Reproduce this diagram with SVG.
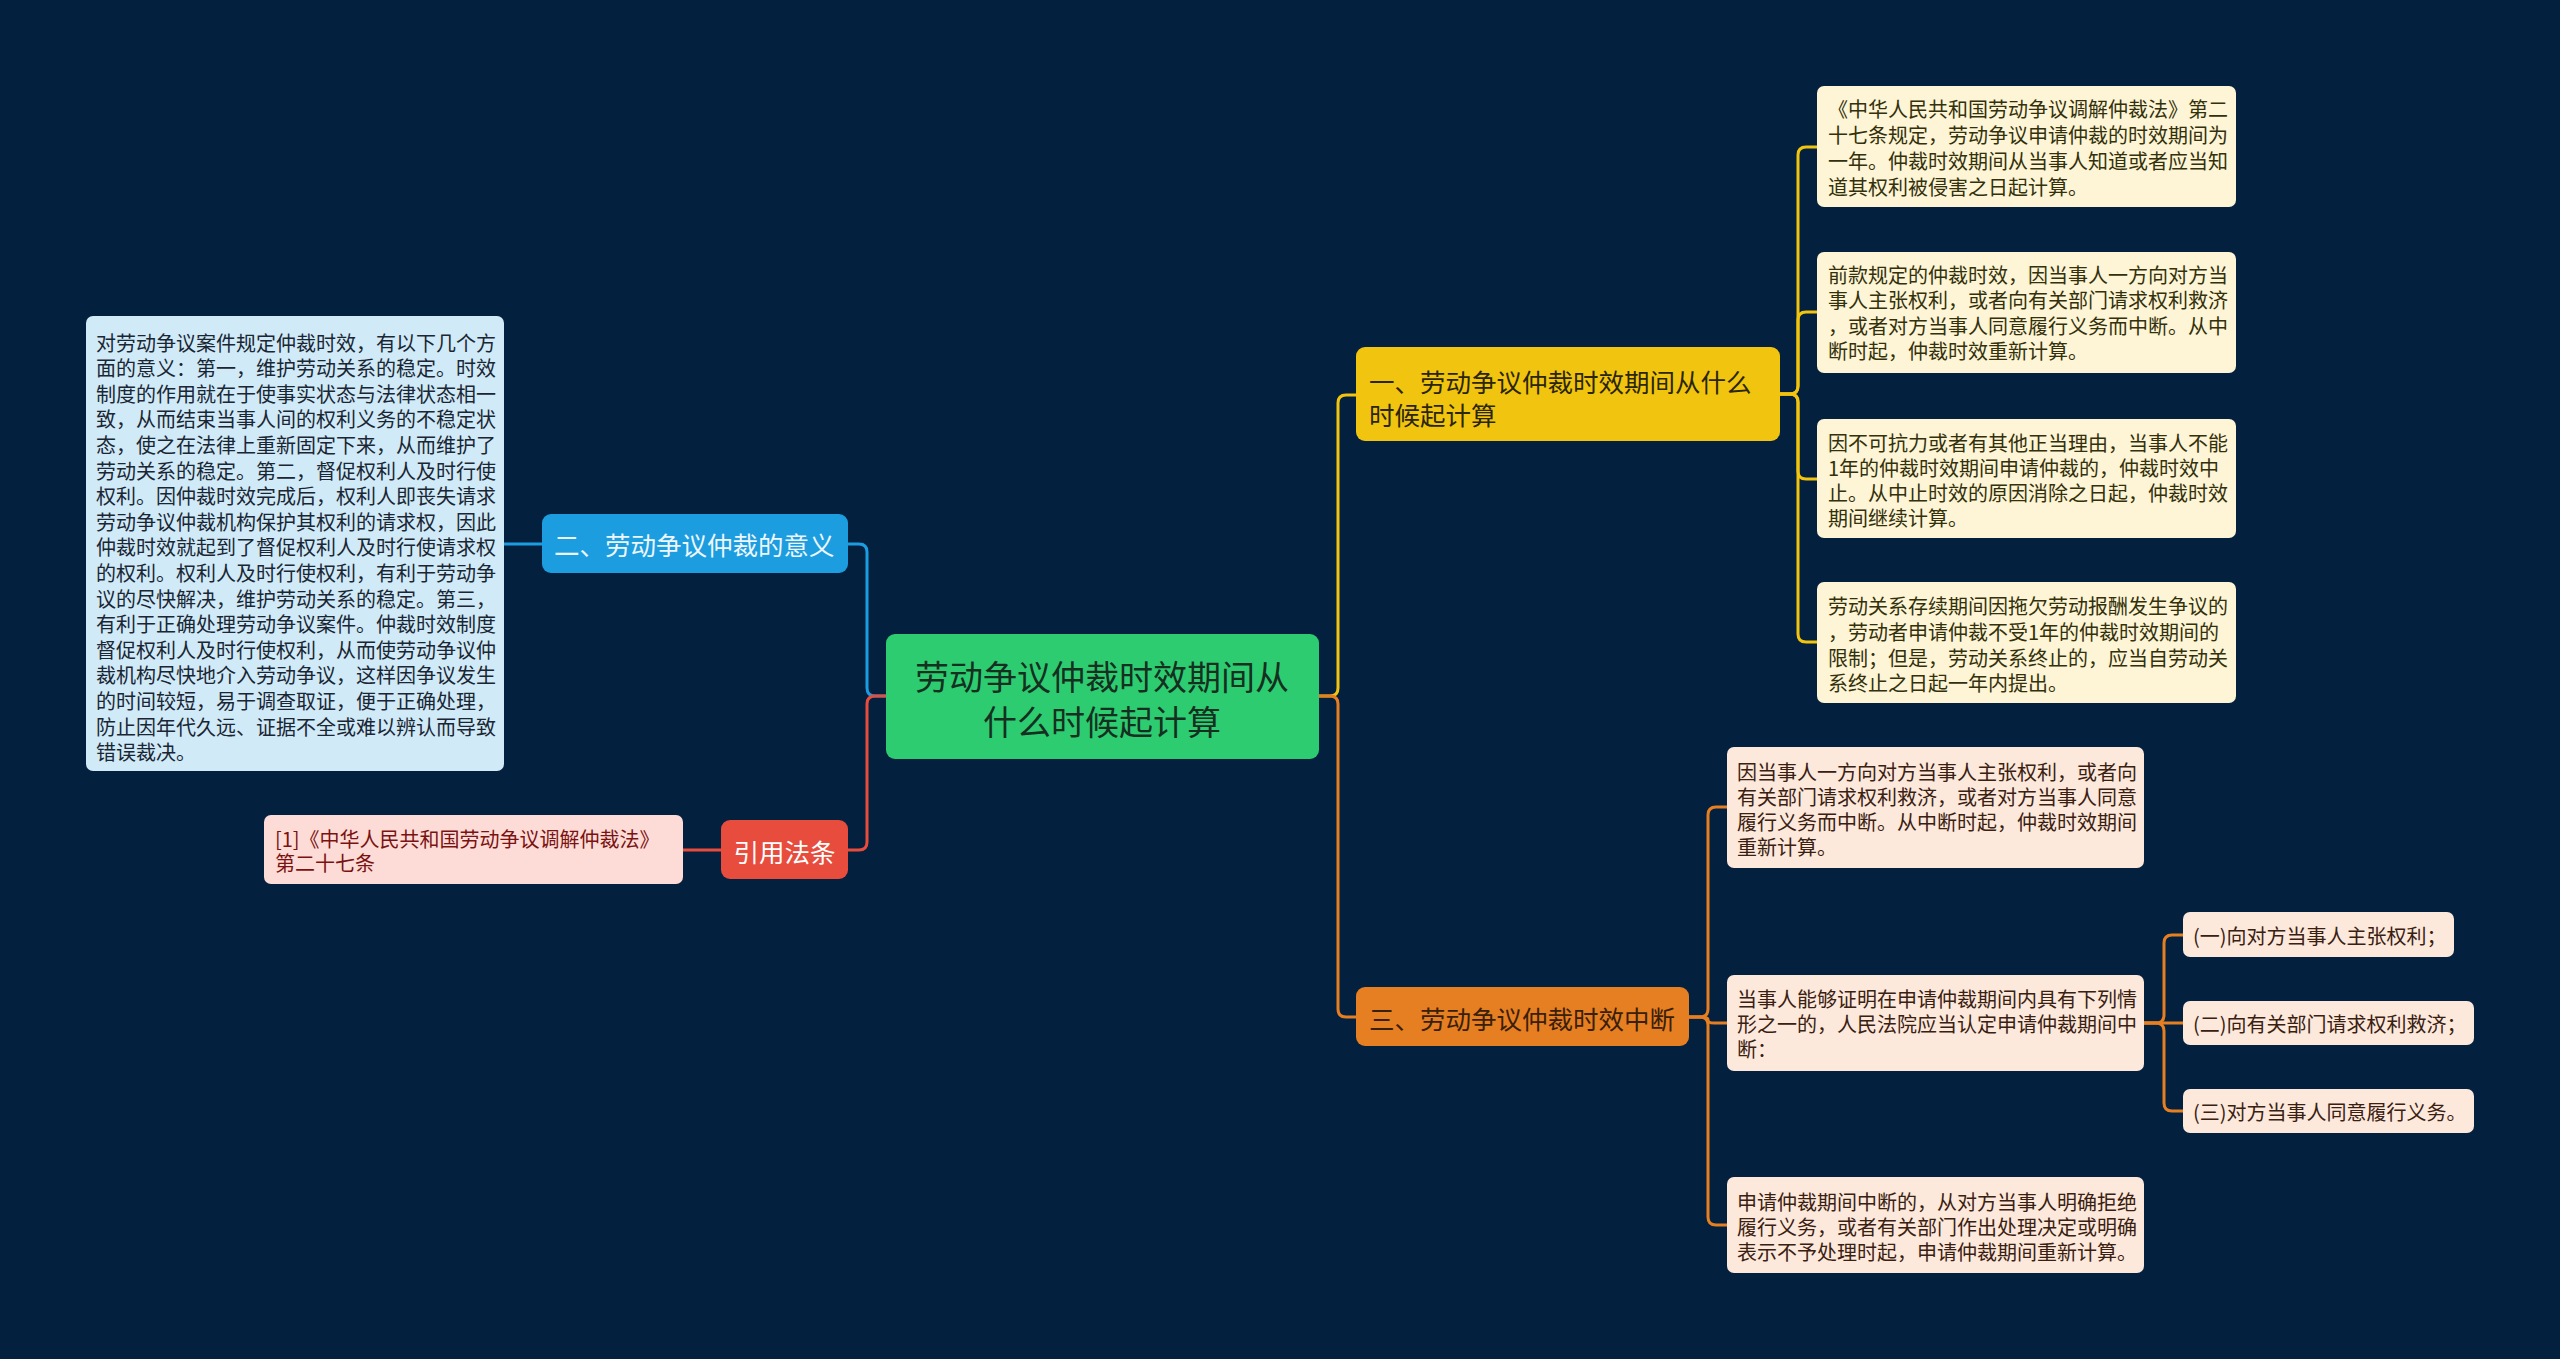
<svg xmlns="http://www.w3.org/2000/svg" width="2560" height="1359" viewBox="0 0 2560 1359">
<style>
text{font-family:"Noto Sans CJK SC","Noto Sans",sans-serif;dominant-baseline:central}
.leaf{font-size:20px}
.br{font-size:25.5px}
.c path{fill:none;stroke-width:3}
.y{stroke:#f1c40f}.o{stroke:#e67e22}.b{stroke:#1b9de0}.r{stroke:#e74c3c}
</style>
<rect width="2560" height="1359" fill="#03203f"/>
<g class="c" id="connectors">
<path class="y" d="M1319,696 H1330 Q1338,696 1338,688 V403 Q1338,395 1346,395 H1356"/>
<path class="o" d="M1319,696 H1330 Q1338,696 1338,704 V1009 Q1338,1017 1346,1017 H1356"/>
<path class="b" d="M886,696 H875 Q867,696 867,688 V552 Q867,544 859,544 H848"/>
<path class="r" d="M886,696 H875 Q867,696 867,704 V842 Q867,850 859,850 H848"/>
<path class="b" d="M542,544 H504"/>
<path class="r" d="M721,850 H683"/>
<path class="y" d="M1780,394 H1790 Q1798,394 1798,386 V155 Q1798,147 1806,147 H1817"/>
<path class="y" d="M1780,394 H1790 Q1798,394 1798,386 V320 Q1798,312 1806,312 H1817"/>
<path class="y" d="M1780,394 H1790 Q1798,394 1798,402 V471 Q1798,479 1806,479 H1817"/>
<path class="y" d="M1780,394 H1790 Q1798,394 1798,402 V634 Q1798,642 1806,642 H1817"/>
<path class="o" d="M1689,1017 H1700 Q1708,1017 1708,1009 V815 Q1708,807 1716,807 H1727"/>
<path class="o" d="M1689,1017 H1702 Q1708,1017 1708,1020 Q1708,1023 1714,1023 H1727"/>
<path class="o" d="M1689,1017 H1700 Q1708,1017 1708,1025 V1217 Q1708,1225 1716,1225 H1727"/>
<path class="o" d="M2144,1023 H2156 Q2164,1023 2164,1015 V943 Q2164,935 2172,935 H2183"/>
<path class="o" d="M2144,1023 H2183"/>
<path class="o" d="M2144,1023 H2156 Q2164,1023 2164,1031 V1103 Q2164,1111 2172,1111 H2183"/>
</g>
<g id="root">
<rect x="886" y="634" width="433" height="125" rx="9" fill="#2ecc71"/>
<text x="1102" y="675" font-size="34" text-anchor="middle" fill="#15301f">劳动争议仲裁时效期间从</text>
<text x="1102" y="720" font-size="34" text-anchor="middle" fill="#15301f">什么时候起计算</text>
</g>
<g id="b1">
<rect x="1356" y="347" width="424" height="94" rx="9" fill="#f1c40f"/>
<text class="br" x="1369" y="380" fill="#2b2608">一、劳动争议仲裁时效期间从什么</text>
<text class="br" x="1369" y="413" fill="#2b2608">时候起计算</text>
</g>
<g id="b3">
<rect x="1356" y="987" width="333" height="59" rx="9" fill="#e67e22"/>
<text class="br" x="1369" y="1017" fill="#3a200a">三、劳动争议仲裁时效中断</text>
</g>
<g id="b2">
<rect x="542" y="514" width="306" height="59" rx="9" fill="#1b9de0"/>
<text class="br" x="554" y="543" fill="#eef6fc">二、劳动争议仲裁的意义</text>
</g>
<g id="ref">
<rect x="721" y="820" width="127" height="59" rx="9" fill="#e74c3c"/>
<text class="br" x="784.5" y="850" text-anchor="middle" fill="#ffffff">引用法条</text>
</g>
<g id="refleaf">
<rect x="264" y="815" width="419" height="69" rx="7" fill="#fddcd7"/>
<g class="leaf" fill="#7a1212">
<text x="275" y="838">[1]《中华人民共和国劳动争议调解仲裁法》</text>
<text x="275" y="862">第二十七条</text>
</g>
</g>
<g id="leftleaf">
<rect x="86" y="316" width="418" height="455" rx="7" fill="#d0eaf8"/>
<g class="leaf" fill="#1a2633">
<text x="96" y="342">对劳动争议案件规定仲裁时效，有以下几个方</text>
<text x="96" y="367.6">面的意义：第一，维护劳动关系的稳定。时效</text>
<text x="96" y="393.2">制度的作用就在于使事实状态与法律状态相一</text>
<text x="96" y="418.8">致，从而结束当事人间的权利义务的不稳定状</text>
<text x="96" y="444.4">态，使之在法律上重新固定下来，从而维护了</text>
<text x="96" y="470">劳动关系的稳定。第二，督促权利人及时行使</text>
<text x="96" y="495.6">权利。因仲裁时效完成后，权利人即丧失请求</text>
<text x="96" y="521.2">劳动争议仲裁机构保护其权利的请求权，因此</text>
<text x="96" y="546.8">仲裁时效就起到了督促权利人及时行使请求权</text>
<text x="96" y="572.4">的权利。权利人及时行使权利，有利于劳动争</text>
<text x="96" y="598">议的尽快解决，维护劳动关系的稳定。第三，</text>
<text x="96" y="623.6">有利于正确处理劳动争议案件。仲裁时效制度</text>
<text x="96" y="649.2">督促权利人及时行使权利，从而使劳动争议仲</text>
<text x="96" y="674.8">裁机构尽快地介入劳动争议，这样因争议发生</text>
<text x="96" y="700.4">的时间较短，易于调查取证，便于正确处理，</text>
<text x="96" y="726">防止因年代久远、证据不全或难以辨认而导致</text>
<text x="96" y="751.6">错误裁决。</text>
</g>
</g>
<g id="y1">
<rect x="1817" y="86" width="419" height="121" rx="7" fill="#fdf5d5"/>
<g class="leaf" fill="#33300c">
<text x="1828" y="108">《中华人民共和国劳动争议调解仲裁法》第二</text>
<text x="1828" y="134">十七条规定，劳动争议申请仲裁的时效期间为</text>
<text x="1828" y="160">一年。仲裁时效期间从当事人知道或者应当知</text>
<text x="1828" y="186">道其权利被侵害之日起计算。</text>
</g>
</g>
<g id="y2">
<rect x="1817" y="252" width="419" height="121" rx="7" fill="#fdf5d5"/>
<g class="leaf" fill="#33300c">
<text x="1828" y="274">前款规定的仲裁时效，因当事人一方向对方当</text>
<text x="1828" y="299">事人主张权利，或者向有关部门请求权利救济</text>
<text x="1828" y="325">，或者对方当事人同意履行义务而中断。从中</text>
<text x="1828" y="350">断时起，仲裁时效重新计算。</text>
</g>
</g>
<g id="y3">
<rect x="1817" y="419" width="419" height="119" rx="7" fill="#fdf5d5"/>
<g class="leaf" fill="#33300c">
<text x="1828" y="442">因不可抗力或者有其他正当理由，当事人不能</text>
<text x="1828" y="467">1年的仲裁时效期间申请仲裁的，仲裁时效中</text>
<text x="1828" y="492">止。从中止时效的原因消除之日起，仲裁时效</text>
<text x="1828" y="517">期间继续计算。</text>
</g>
</g>
<g id="y4">
<rect x="1817" y="582" width="419" height="121" rx="7" fill="#fdf5d5"/>
<g class="leaf" fill="#33300c">
<text x="1828" y="605">劳动关系存续期间因拖欠劳动报酬发生争议的</text>
<text x="1828" y="631">，劳动者申请仲裁不受1年的仲裁时效期间的</text>
<text x="1828" y="657">限制；但是，劳动关系终止的，应当自劳动关</text>
<text x="1828" y="682">系终止之日起一年内提出。</text>
</g>
</g>
<g id="o1">
<rect x="1727" y="747" width="417" height="121" rx="7" fill="#fce9dc"/>
<g class="leaf" fill="#3a2010">
<text x="1737" y="771">因当事人一方向对方当事人主张权利，或者向</text>
<text x="1737" y="796">有关部门请求权利救济，或者对方当事人同意</text>
<text x="1737" y="821">履行义务而中断。从中断时起，仲裁时效期间</text>
<text x="1737" y="846">重新计算。</text>
</g>
</g>
<g id="o2">
<rect x="1727" y="975" width="417" height="96" rx="7" fill="#fce9dc"/>
<g class="leaf" fill="#3a2010">
<text x="1737" y="998">当事人能够证明在申请仲裁期间内具有下列情</text>
<text x="1737" y="1023">形之一的，人民法院应当认定申请仲裁期间中</text>
<text x="1737" y="1048">断：</text>
</g>
</g>
<g id="o3">
<rect x="1727" y="1177" width="417" height="96" rx="7" fill="#fce9dc"/>
<g class="leaf" fill="#3a2010">
<text x="1737" y="1201">申请仲裁期间中断的，从对方当事人明确拒绝</text>
<text x="1737" y="1226">履行义务，或者有关部门作出处理决定或明确</text>
<text x="1737" y="1251">表示不予处理时起，申请仲裁期间重新计算。</text>
</g>
</g>
<g id="s1">
<rect x="2183" y="912" width="271" height="45" rx="7" fill="#fce9dc"/>
<text class="leaf" x="2193" y="935" fill="#3a2010">(一)向对方当事人主张权利；</text>
</g>
<g id="s2">
<rect x="2183" y="1001" width="291" height="44" rx="7" fill="#fce9dc"/>
<text class="leaf" x="2193" y="1023" fill="#3a2010">(二)向有关部门请求权利救济；</text>
</g>
<g id="s3">
<rect x="2183" y="1089" width="291" height="44" rx="7" fill="#fce9dc"/>
<text class="leaf" x="2193" y="1111" fill="#3a2010">(三)对方当事人同意履行义务。</text>
</g>
</svg>
